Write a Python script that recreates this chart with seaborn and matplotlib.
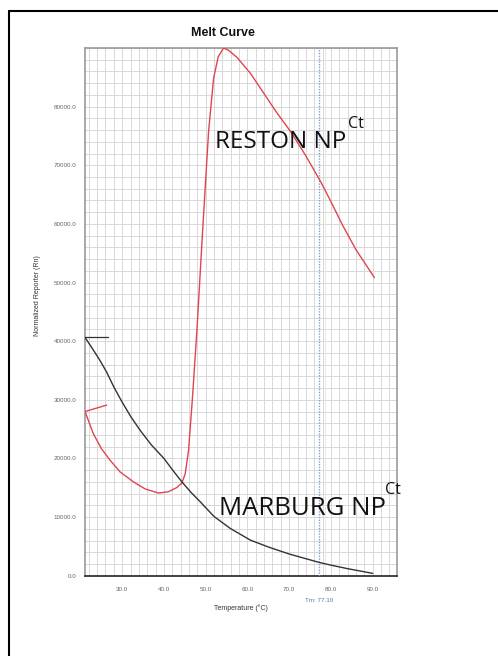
import matplotlib
matplotlib.use("Agg")
import matplotlib.pyplot as plt
import seaborn as sns
import numpy as np
import pandas as pd
from matplotlib.lines import Line2D

# Reston NP melt curve (red)
reston_temp = [21.1, 23.1, 25.0, 27.1, 29.5, 32.7, 35.5, 38.7, 41.0, 43.0, 44.3, 45.1, 45.9, 46.8, 47.9, 49.2, 50.7, 51.9, 53.0, 54.3, 55.5, 57.5, 60.7, 64.0, 67.0, 70.3, 74.0, 77.7, 80.0, 82.7, 86.0, 90.4]
reston_rn = [28000, 24200, 21700, 19700, 17700, 16000, 14800, 14100, 14300, 15000, 15800, 17400, 21400, 30000, 41800, 58000, 75800, 84860, 88500, 90000, 89600, 88400, 85700, 82200, 79000, 75800, 71600, 67000, 63800, 59900, 55600, 50850]
reston_tick_temp = [21.1, 26.3]
reston_tick_rn = [28000, 29100]

# Marburg NP melt curve (black)
marburg_temp = [21.1, 22.9, 24.7, 26.3, 28.0, 30.0, 32.0, 34.3, 37.0, 40.0, 42.0, 44.3, 46.5, 48.7, 52.0, 55.9, 60.7, 65.0, 70.0, 74.0, 77.1, 80.0, 84.0, 87.0, 90.0]
marburg_rn = [40650, 38700, 36700, 34700, 32200, 29600, 27200, 24800, 22300, 20000, 18100, 16000, 14200, 12600, 10100, 8060, 6070, 4900, 3700, 2900, 2280, 1800, 1200, 800, 400]
marburg_tick_temp = [21.1, 26.5]
marburg_tick_rn = [40650, 40650]

tm_value = 77.10
x_ticks = [30, 40, 50, 60, 70, 80, 90]
y_ticks = [0, 10000, 20000, 30000, 40000, 50000, 60000, 70000, 80000]

sns.set_theme(style="white")
plt.rcParams['font.family'] = ['Liberation Sans', 'DejaVu Sans']

fig = plt.figure(figsize=(4.98, 6.56), dpi=100)
ax = fig.add_axes([0.1707, 0.1224, 0.797 - 0.1707, 0.9268 - 0.1224])

df_r = pd.DataFrame({"temp": reston_temp, "rn": reston_rn})
df_m = pd.DataFrame({"temp": marburg_temp, "rn": marburg_rn})
sns.lineplot(data=df_r, x="temp", y="rn", ax=ax, color="#e0454f", lw=1.0, sort=False, zorder=4)
sns.lineplot(data=df_m, x="temp", y="rn", ax=ax, color="#333333", lw=1.0, sort=False, zorder=4)
ax.plot(reston_tick_temp, reston_tick_rn, color="#e0454f", lw=1.0, zorder=4)
ax.plot(marburg_tick_temp, marburg_tick_rn, color="#333333", lw=0.9, zorder=4)

ax.set_xlim(21.1, 95.8)
ax.set_ylim(0, 90000)

ax.set_xticks(x_ticks)
ax.set_xticklabels([f"{v:.1f}" for v in x_ticks])
ax.set_yticks(y_ticks)
ax.set_yticklabels([f"{v:.1f}" for v in y_ticks])
ax.set_xticks(np.arange(22, 96, 2), minor=True)
ax.set_yticks(np.arange(0, 90001, 2000), minor=True)
ax.grid(which="both", color="#d8d8d8", lw=0.7)
ax.set_axisbelow(True)
ax.tick_params(axis="both", which="major", labelsize=4.5, colors="#666666", length=2)
ax.tick_params(axis="both", which="minor", length=0)
ax.tick_params(axis="x", pad=6)
ax.tick_params(axis="y", pad=4)

for s in ["top", "right", "left"]:
    ax.spines[s].set_color("#999999")
    ax.spines[s].set_linewidth(1.2)
ax.spines["bottom"].set_color("#222222")
ax.spines["bottom"].set_linewidth(1.2)

ax.axvline(tm_value, color="#7f9fcf", lw=1.0, ls=(0, (1, 1)), zorder=3)
ax.axvline(78.6, color="#dfeedd", lw=0.8, zorder=2)

ax.set_xlabel("Temperature (°C)", fontsize=5, color="#333333", labelpad=9)
ax.set_ylabel("Normalized Reporter (Rn)", fontsize=5, color="#333333")
ax.yaxis.set_label_coords(-0.14, 0.53)
ax.set_title("Melt Curve", fontsize=9, fontweight="bold", color="#111111", pad=9, x=0.442)

ax.text(tm_value, -4300, f"Tm: {tm_value:.2f}", fontsize=4.5, color="#5577aa",
        ha="center", va="center", clip_on=False)

lbl_font = ['Open Sans', 'DejaVu Sans']
ax.text(52.3, 72900, "RESTON NP", fontsize=17.5, family=lbl_font, color="#111111",
        ha="left", va="baseline", zorder=6)
ax.text(84.2, 76300, "Ct", fontsize=11.5, family=lbl_font, color="#111111",
        ha="left", va="baseline", zorder=6)
ax.text(53.3, 10300, "MARBURG NP", fontsize=18.5, family=lbl_font, color="#111111",
        ha="left", va="baseline", zorder=6, clip_on=False)
ax.text(93.0, 14000, "Ct", fontsize=11.5, family=lbl_font, color="#111111",
        ha="left", va="baseline", zorder=6, clip_on=False)

# outer frame (left and top edges of the pasted figure border)
fig.add_artist(Line2D([9/498, 9/498], [0, 1 - 11/656], transform=fig.transFigure, color="black", lw=1.5))
fig.add_artist(Line2D([9/498, 1], [1 - 11/656, 1 - 11/656], transform=fig.transFigure, color="black", lw=1.5))

fig.savefig("out.png", dpi=100)
